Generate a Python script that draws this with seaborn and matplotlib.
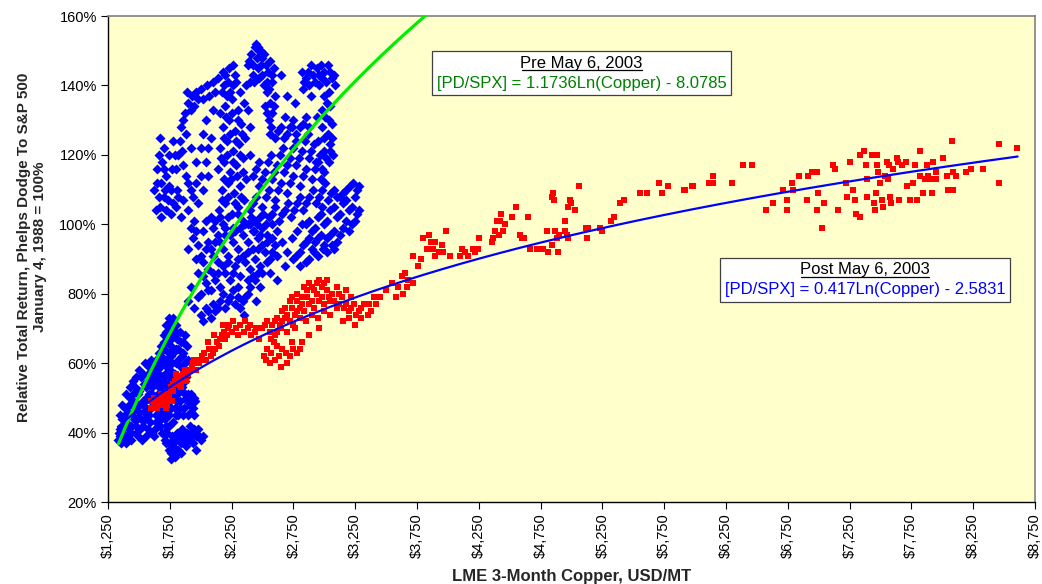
#!/usr/bin/env python3
"""Phelps Dodge relative return vs LME copper, pre/post May 6 2003."""

import matplotlib

matplotlib.use("Agg")
import matplotlib.pyplot as plt
import numpy as np
import pandas as pd
import seaborn as sns
from matplotlib.font_manager import FontProperties
from matplotlib.lines import Line2D
from matplotlib.offsetbox import AnchoredOffsetbox, DrawingArea, TextArea, VPacker
from matplotlib.textpath import TextPath
from matplotlib.ticker import FuncFormatter

# ---- pre May 6, 2003 (copper USD/MT, PD/SPX in %) -------------------------
PRE_LOW = [
    (1330, 38), (1345, 41), (1355, 37), (1365, 44), (1375, 40), (1385, 47), (1395, 43), (1405, 39),
    (1415, 46), (1425, 50), (1435, 42), (1445, 45), (1455, 49), (1465, 53), (1475, 40), (1485, 44),
    (1495, 48), (1505, 52), (1515, 56), (1525, 38), (1535, 42), (1545, 46), (1555, 50), (1565, 54),
    (1575, 41), (1585, 45), (1595, 49), (1605, 53), (1615, 57), (1625, 39), (1635, 43), (1645, 47),
    (1655, 51), (1665, 55), (1675, 42), (1685, 46), (1695, 50), (1705, 54), (1715, 44), (1725, 48),
    (1735, 52), (1745, 45), (1755, 49), (1765, 53), (1775, 43), (1790, 47), (1805, 51), (1820, 45),
    (1835, 49), (1850, 52), (1865, 47), (1880, 50), (1895, 45), (1910, 48), (1925, 51), (1940, 47),
    (1955, 49), (1450, 55), (1500, 58), (1550, 60), (1600, 61), (1400, 51), (1360, 48), (1420, 41),
    (1470, 47), (1520, 44), (1580, 51), (1640, 45), (1690, 40), (1740, 42), (1380, 42), (1430, 53),
    (1340, 40), (1350, 45), (1370, 38), (1390, 45), (1410, 42), (1420, 48), (1440, 40), (1450, 51),
    (1460, 44), (1480, 42), (1490, 51), (1500, 46), (1510, 41), (1530, 49), (1540, 54), (1550, 44),
    (1560, 47), (1570, 57), (1590, 43), (1600, 47), (1610, 51), (1620, 55), (1630, 41), (1650, 45),
    (1660, 53), (1670, 49), (1680, 44), (1700, 46), (1710, 50), (1720, 42), (1730, 46), (1750, 51),
    (1760, 47), (1780, 50), (1800, 45), (1810, 49), (1830, 47), (1860, 45), (1870, 51), (1890, 49),
    (1920, 46), (1930, 49), (1950, 45), (1480, 56), (1530, 57), (1580, 59), (1630, 59), (1350, 39),
    (1395, 37), (1440, 38), (1490, 39), (1560, 39), (1610, 40),
]
PRE_TAIL = [
    (1700, 40), (1720, 37), (1740, 35), (1760, 34), (1780, 36), (1800, 38), (1820, 35), (1840, 37),
    (1860, 39), (1880, 36), (1900, 38), (1920, 40), (1940, 37), (1960, 39), (1980, 41), (2000, 38),
    (2020, 39), (1770, 39), (1850, 41), (1910, 42), (1790, 33), (1960, 35), (1710, 38), (1730, 40),
    (1750, 37), (1770, 35), (1810, 40), (1830, 39), (1870, 38), (1890, 40), (1930, 39), (1950, 41),
    (1990, 39), (1800, 34), (1840, 34), (1760, 32.5),
]
PRE_ARM = [
    (1560, 53), (1600, 54), (1640, 55), (1680, 53), (1720, 54), (1760, 55), (1800, 52), (1850, 53),
    (1900, 51), (1950, 50), (1590, 57), (1630, 58), (1670, 59), (1710, 57), (1750, 58), (1790, 57),
    (1840, 59), (1880, 56), (1640, 61), (1680, 62), (1720, 61), (1760, 62), (1800, 60), (1850, 62),
    (1900, 61), (1680, 65), (1720, 66), (1760, 65), (1800, 64), (1840, 66), (1890, 65), (1700, 68),
    (1740, 69), (1780, 68), (1830, 69), (1870, 68), (1720, 71), (1760, 72), (1800, 71), (1740, 73),
    (1900, 78), (1950, 76), (1980, 79), (1920, 82), (1580, 55), (1620, 56), (1660, 57), (1700, 56),
    (1740, 56), (1780, 54), (1820, 56), (1870, 55), (1610, 59), (1650, 60), (1690, 60), (1730, 59),
    (1770, 60), (1820, 61), (1870, 60), (1660, 63), (1700, 64), (1740, 63), (1780, 63), (1820, 64),
    (1860, 63), (1700, 66), (1760, 67), (1810, 67), (1860, 66), (1720, 69), (1760, 70), (1800, 69),
    (1740, 71), (1780, 73),
]
PRE_BAND = [
    (2000, 74), (2040, 76), (2080, 73), (2120, 75), (2160, 78), (2200, 76), (2240, 79), (2280, 77),
    (2320, 76), (2360, 79), (2400, 82), (2440, 84), (2480, 82), (2000, 80), (2040, 83), (2080, 81),
    (2120, 84), (2160, 82), (2200, 86), (2240, 84), (2280, 88), (2320, 85), (2360, 89), (2400, 87),
    (2440, 90), (2480, 88), (2520, 92), (2560, 90), (2600, 94), (1980, 86), (2020, 89), (2060, 87),
    (2100, 91), (2140, 89), (2180, 93), (2220, 91), (2260, 95), (2300, 93), (2340, 97), (2380, 95),
    (2420, 98), (2460, 96), (2500, 99), (2540, 97), (2580, 100), (2620, 98), (1900, 93), (1940, 96),
    (1980, 94), (2020, 98), (2060, 95), (2100, 99), (2140, 97), (2180, 100), (2220, 102), (2260, 99),
    (2300, 103), (2340, 101), (2300, 82), (2380, 80), (2450, 78), (2350, 74), (2560, 86), (2620, 84),
    (2680, 88), (2020, 72), (2060, 75), (2100, 77), (2140, 76), (2180, 80), (2220, 78), (2260, 81),
    (2300, 79), (2340, 78), (2380, 84), (2420, 85), (2460, 86), (2500, 86), (2540, 89), (2580, 92),
    (2020, 85), (2060, 81), (2100, 86), (2140, 86), (2180, 88), (2220, 89), (2260, 86), (2300, 90),
    (2340, 91), (2380, 92), (2420, 93), (2460, 93), (2500, 94), (2540, 95), (2580, 96), (2620, 91),
    (2660, 95), (2000, 91), (2040, 93), (2080, 93), (2120, 95), (2160, 95), (2200, 97), (2240, 97),
    (2280, 98), (2320, 99), (2360, 100), (2400, 100), (2440, 101), (2480, 97), (1960, 90), (1920, 99),
    (1960, 98), (2040, 101), (2080, 102), (2120, 101), (2160, 102), (2200, 99),
]
PRE_COLUMN = [
    (2150, 104), (2200, 106), (2250, 103), (2300, 105), (2350, 107), (2170, 110), (2220, 112),
    (2270, 109), (2320, 111), (2370, 113), (2140, 116), (2190, 118), (2240, 115), (2290, 117),
    (2340, 119), (2160, 122), (2210, 124), (2260, 121), (2310, 123), (2360, 125), (2180, 128),
    (2230, 130), (2280, 127), (2330, 129), (2200, 134), (2250, 136), (2300, 133), (2350, 135),
    (2190, 140), (2240, 138), (2290, 141), (2180, 144), (2230, 145), (2280, 143), (2175, 107),
    (2225, 108), (2275, 106), (2325, 108), (2190, 113), (2245, 113), (2295, 114), (2345, 115),
    (2165, 119), (2215, 120), (2265, 118), (2315, 120), (2185, 125), (2235, 126), (2285, 124),
    (2335, 126), (2205, 131), (2255, 132), (2305, 130), (2220, 141), (2265, 140), (2210, 137),
    (2160, 132), (2170, 138), (2200, 143), (2260, 146), (2320, 138), (2370, 140), (2400, 128),
    (2380, 133),
]
PRE_PEAK = [
    (2380, 146), (2410, 149), (2440, 151), (2470, 150), (2500, 148), (2530, 146), (2560, 147),
    (2590, 145), (2420, 143), (2460, 145), (2500, 143), (2540, 141), (2580, 141), (2460, 151),
    (2490, 146), (2540, 138), (2560, 135), (2580, 132), (2550, 130), (2600, 137), (2570, 128),
    (2520, 134), (2395, 147), (2425, 146), (2455, 148), (2485, 150), (2515, 149), (2545, 144),
    (2575, 143), (2435, 141), (2475, 142), (2515, 140), (2555, 139), (2535, 132), (2565, 126),
    (2595, 134), (2450, 152), (2400, 141),
]
PRE_ARC = [
    (1640, 104), (1660, 108), (1680, 112), (1650, 116), (1690, 118), (1720, 114), (1760, 110),
    (1800, 116), (1740, 120), (1700, 122), (1780, 124), (1820, 120), (1860, 117), (1900, 112),
    (1940, 108), (1980, 106), (2020, 110), (2060, 114), (1960, 118), (2000, 122), (1880, 126),
    (1840, 128), (1870, 132), (1900, 135), (1930, 137), (1960, 138), (2000, 139), (2050, 140),
    (2100, 141), (2140, 142), (1680, 102), (1720, 104), (1760, 103), (1800, 105), (1840, 102),
    (1900, 104), (1950, 101), (1620, 110), (1700, 108), (2080, 125), (2040, 130), (2100, 133),
    (1645, 112), (1665, 120), (1675, 105), (1710, 110), (1735, 107), (1770, 116), (1790, 120),
    (1810, 110), (1830, 124), (1850, 121), (1880, 114), (1920, 110), (1920, 122), (1960, 112),
    (2000, 114), (2040, 118), (2020, 126), (2060, 122), (1860, 130), (1890, 138), (1920, 133),
    (1950, 134), (1980, 136), (2020, 136), (2070, 137), (2120, 138), (1860, 107), (1820, 108),
    (1780, 106), (1740, 111), (1700, 116), (1670, 125),
]
PRE_UPPER_RIGHT = [
    (2820, 144), (2850, 142), (2880, 140), (2910, 143), (2940, 145), (2970, 146), (3000, 144),
    (3030, 146), (3060, 142), (3090, 140), (3040, 138), (2960, 140), (2890, 137), (2830, 139),
    (3000, 137), (3050, 134), (3010, 131), (2980, 128), (3030, 126), (3060, 129), (2950, 124),
    (3000, 121), (3050, 123), (2930, 118), (2980, 116), (3040, 118), (3070, 120), (2650, 143),
    (2700, 137), (2760, 135), (2680, 131), (2740, 128), (2835, 141), (2865, 144), (2895, 146),
    (2925, 141), (2955, 143), (2985, 142), (3015, 141), (3045, 144), (3075, 143), (3025, 135),
    (3035, 130), (2995, 125), (3045, 121), (2965, 120), (3015, 119), (2945, 131), (2985, 133),
    (3065, 125),
]
PRE_MID_RIGHT = [
    (2400, 104), (2450, 108), (2500, 105), (2550, 110), (2600, 107), (2650, 112), (2700, 109),
    (2750, 114), (2800, 111), (2850, 116), (2900, 113), (2950, 118), (3000, 115), (2420, 114),
    (2470, 118), (2520, 115), (2570, 120), (2620, 117), (2670, 122), (2720, 119), (2770, 124),
    (2820, 121), (2870, 126), (2920, 123), (2380, 100), (2430, 98), (2480, 102), (2530, 100),
    (2580, 103), (2630, 101), (2680, 104), (2730, 102), (2780, 106), (2830, 104), (2880, 108),
    (2930, 106), (2980, 110), (2600, 125), (2650, 128), (2700, 126), (2750, 130), (2800, 128),
    (2850, 131), (2400, 120), (2425, 106), (2475, 111), (2525, 108), (2575, 113), (2625, 110),
    (2675, 115), (2725, 112), (2775, 117), (2825, 114), (2875, 119), (2925, 116), (2975, 113),
    (2445, 116), (2495, 113), (2545, 118), (2595, 115), (2645, 120), (2695, 117), (2745, 122),
    (2795, 119), (2845, 124), (2895, 121), (2405, 102), (2455, 100), (2505, 103), (2555, 102),
    (2605, 105), (2655, 103), (2705, 106), (2755, 104), (2805, 108), (2855, 106), (2905, 110),
    (2955, 108), (3005, 112), (2625, 127), (2675, 125), (2725, 128), (2775, 126), (2825, 129),
    (2875, 128),
]
PRE_BLOB = [
    (2850, 100), (2900, 98), (2950, 102), (3000, 100), (3050, 104), (3100, 102), (3150, 106),
    (3200, 104), (3250, 108), (3280, 111), (3230, 112), (3180, 110), (3130, 108), (3080, 110),
    (3030, 107), (2980, 105), (2800, 92), (2850, 95), (2900, 93), (2950, 96), (3000, 94), (3050, 97),
    (3100, 95), (3150, 99), (3200, 98), (3250, 101), (3280, 104), (2750, 90), (2800, 88), (2880, 90),
    (2950, 91), (3020, 92), (3080, 93), (2875, 101), (2925, 99), (2975, 103), (3025, 101),
    (3075, 105), (3125, 103), (3175, 107), (3225, 105), (3265, 110), (3205, 111), (3155, 109),
    (3105, 108), (3055, 109), (2825, 94), (2875, 96), (2925, 95), (2975, 97), (3025, 96), (3075, 98),
    (3125, 97), (3175, 101), (3225, 100), (3265, 103), (2775, 91), (2850, 89), (2920, 92), (2990, 93),
    (3060, 94), (2700, 92), (2740, 96), (2780, 98), (2820, 100),
]

# ---- post May 6, 2003 --------------------------------------------------------
POST_START = [
    (1600, 49), (1620, 48), (1640, 49), (1660, 50), (1680, 49), (1700, 50), (1720, 51), (1740, 50),
    (1760, 52), (1700, 48), (1730, 48), (1750, 49), (1680, 51), (1650, 47), (1620, 50), (1770, 49),
    (1720, 47), (1690, 48), (1610, 49), (1630, 48), (1650, 50), (1670, 49), (1690, 50), (1710, 49),
    (1730, 50), (1660, 48), (1700, 51), (1740, 51), (1640, 47), (1600, 47),
]
POST_CLIMB = [
    (1760, 53), (1790, 55), (1820, 54), (1850, 56), (1870, 58), (1900, 57), (1930, 59), (1960, 58),
    (1990, 60), (2010, 62), (2040, 61), (2070, 64), (2100, 63), (2130, 66), (2150, 65), (2170, 68),
    (2200, 67), (2220, 70), (1800, 57), (1880, 55), (1950, 61), (2060, 66), (2110, 68), (2180, 71),
    (1780, 52), (1840, 53), (2230, 71), (2260, 72), (2290, 70), (2320, 71), (2350, 69), (2380, 70),
    (2410, 68), (2440, 69), (2470, 67), (2300, 68), (2250, 69), (1780, 54), (1810, 56), (1840, 55),
    (1860, 57), (1890, 58), (1920, 58), (1940, 60), (1970, 61), (2000, 61), (2030, 63), (2080, 62),
    (2120, 64), (2160, 67), (2190, 69), (2210, 68),
]
POST_LOWER = [
    (2510, 62), (2540, 64), (2570, 63), (2600, 61), (2630, 62), (2660, 64), (2690, 63), (2720, 62),
    (2750, 64), (2780, 63), (2560, 60), (2620, 65), (2700, 60), (2650, 59), (2590, 66), (2740, 66),
    (2800, 64), (2530, 61),
]
POST_MAIN = [
    (2500, 70), (2540, 72), (2580, 71), (2620, 73), (2660, 72), (2700, 74), (2740, 76), (2780, 75),
    (2820, 77), (2860, 79), (2900, 78), (2940, 80), (2980, 79), (3020, 81), (3060, 80), (3100, 82),
    (3140, 79), (3180, 77), (3220, 76), (3260, 74), (3300, 76), (2600, 68), (2650, 70), (2700, 69),
    (2750, 71), (2800, 73), (2850, 72), (2900, 74), (2950, 73), (3000, 75), (3050, 74), (3100, 76),
    (3150, 72), (3200, 73), (3250, 71), (3300, 73), (3350, 74), (2720, 78), (2780, 80), (2840, 82),
    (2880, 83), (2920, 81), (2960, 84), (3000, 83), (3050, 78), (3120, 77), (2680, 76), (2760, 70),
    (2880, 68), (2820, 66), (2960, 70), (3180, 81), (3220, 79), (3360, 77), (3400, 79), (3450, 79),
    (3500, 81), (3550, 83), (3600, 82), (3640, 80), (3680, 84), (3720, 83), (3580, 79), (3650, 86),
    (3629, 85), (3669, 82), (2520, 71), (2560, 69), (2600, 72), (2640, 71), (2680, 73), (2720, 72),
    (2760, 74), (2800, 76), (2840, 75), (2880, 77), (2920, 76), (2960, 78), (3000, 77), (3040, 79),
    (3080, 78), (3120, 80), (3160, 76), (3200, 75), (3240, 77), (3280, 75), (3320, 77), (3380, 75),
    (3420, 77), (2860, 81), (2900, 82), (2940, 83), (2980, 82), (3020, 84), (2820, 79), (2780, 78),
    (2740, 79), (2660, 75), (2620, 69), (2570, 67), (2450, 70), (2400, 71), (2360, 72),
]
POST_MID = [
    (3718, 91), (3758, 88), (3799, 96), (3847, 97), (3896, 95), (3880, 93), (3896, 91), (3952, 94),
    (3961, 92), (3985, 98), (4017, 91), (3830, 93), (3860, 95), (3930, 92), (3780, 90),
    (4098, 91), (4114, 93), (4140, 92), (4160, 91), (4203, 93), (4220, 92), (4243, 93), (4251, 96),
    (4357, 95), (4365, 96), (4381, 98), (4397, 101), (4422, 101), (4410, 97), (4446, 98), (4462, 100),
    (4430, 103), (4519, 102), (4551, 105), (4583, 97), (4600, 96), (4616, 96), (4648, 102), (4664, 93),
    (4721, 93), (4770, 93), (4802, 98), (4842, 94), (4810, 92), (4867, 98), (4883, 96), (4891, 92),
    (4900, 97), (4948, 98), (4964, 97), (4948, 101), (4970, 96),
    (4842, 108), (4859, 107), (4850, 109), (4988, 107), (4972, 105), (5000, 106), (5028, 104),
    (5061, 111), (5118, 99), (5126, 96), (5135, 99), (5231, 99), (5245, 98), (5320, 101),
    (5345, 102), (5393, 106), (5425, 107),
]
POST_HIGH = [
    (5554, 109), (5615, 109), (5708, 112), (5730, 109), (5781, 111), (5910, 110), (5975, 111),
    (5918, 110), (5983, 111), (6112, 112), (6145, 114), (6145, 112), (6299, 112), (6388, 117),
    (6460, 117), (6574, 104), (6630, 106), (6711, 110), (6743, 104), (6743, 107), (6784, 112),
    (6792, 110), (6840, 114), (6905, 107), (6913, 114), (6946, 115), (6986, 115), (6994, 109),
    (6986, 104), (7027, 99), (7043, 106), (7115, 117), (7132, 116), (7156, 104), (7221, 112),
    (7229, 108), (7253, 118), (7278, 110), (7294, 107), (7302, 103), (7334, 102), (7334, 120),
    (7366, 121), (7383, 117), (7391, 113), (7391, 108), (7431, 120), (7447, 106), (7456, 104),
    (7464, 109), (7472, 120), (7472, 117), (7480, 115), (7496, 112), (7512, 107), (7520, 105),
    (7536, 114), (7553, 118), (7561, 113), (7569, 117), (7577, 108), (7585, 106), (7601, 116),
    (7634, 119), (7642, 118), (7650, 107), (7674, 117), (7706, 118), (7714, 111), (7739, 107),
    (7763, 112), (7779, 117), (7795, 107), (7820, 121), (7820, 114), (7844, 109), (7860, 113),
    (7876, 117), (7884, 114), (7900, 113), (7917, 109), (7925, 118), (7949, 113), (7949, 115),
    (8006, 119), (8038, 114), (8046, 110), (8079, 124), (8087, 110), (8087, 115), (8111, 114),
    (8192, 115), (8232, 116), (8329, 116), (8459, 123), (8459, 112), (8604, 122),
]

# logarithmic trendlines as printed on the chart: ratio = a * ln(copper) + b
PRE_FIT = (1.1736, -8.0785)
POST_FIT = (0.417, -2.5831)
PRE_FIT_SPAN = (1335, 3900)
POST_FIT_SPAN = (1330, 8610)

X_TICKS = list(range(1250, 8751, 500))
Y_TICKS = list(range(20, 161, 20))

FONT = "Liberation Sans"
PLOT_BG = "#FFFFCC"
BLUE = "#0000FF"
RED = "#FF0000"
GREEN_LINE = "#00EE00"
GREEN_TEXT = "#008000"


def setup_style() -> None:
    sns.set_theme(style="ticks")
    plt.rcParams.update(
        {
            "font.family": [FONT, "DejaVu Sans"],
            "axes.edgecolor": "black",
            "xtick.color": "black",
            "ytick.color": "black",
        }
    )


def to_frame(*groups) -> pd.DataFrame:
    rows = [p for g in groups for p in g]
    return pd.DataFrame(rows, columns=["copper", "ratio"])


def trend_frame(fit, span) -> pd.DataFrame:
    x = np.geomspace(span[0], span[1], 300)
    return pd.DataFrame({"copper": x, "ratio": 100 * (fit[0] * np.log(x) + fit[1])})


def equation_box(ax, title, formula, color, xy, size=12) -> None:
    head = TextArea(title, textprops=dict(color="black", fontsize=size))
    # underline under the heading, as wide as the heading text
    width = TextPath((0, 0), title, size=size, prop=FontProperties(family=FONT)).get_extents().width
    rule = DrawingArea(width, 1.5, 0, 0)
    rule.add_artist(Line2D([0, width], [0.9, 0.9], color="black", linewidth=0.9))
    heading = VPacker(children=[head, rule], align="center", pad=0, sep=-1)
    body = TextArea(formula, textprops=dict(color=color, fontsize=size))
    pack = VPacker(children=[heading, body], align="center", pad=0, sep=3)
    box = AnchoredOffsetbox(
        loc="center", child=pack, pad=0.3, borderpad=0, frameon=True,
        bbox_to_anchor=xy, bbox_transform=ax.transAxes,
    )
    box.patch.set_facecolor("white")
    box.patch.set_edgecolor("#404040")
    box.patch.set_linewidth(0.9)
    box.set_zorder(6)
    ax.add_artist(box)


def main() -> None:
    setup_style()
    pre = to_frame(PRE_LOW, PRE_TAIL, PRE_ARM, PRE_BAND, PRE_COLUMN, PRE_PEAK, PRE_ARC,
                   PRE_UPPER_RIGHT, PRE_MID_RIGHT, PRE_BLOB)
    post = to_frame(POST_START, POST_CLIMB, POST_LOWER, POST_MAIN, POST_MID, POST_HIGH)

    fig = plt.figure(figsize=(10.42, 5.84), dpi=100)
    ax = fig.add_axes([0.1036, 0.1404, 0.8896, 0.8322])
    ax.set_facecolor(PLOT_BG)

    sns.scatterplot(data=pre, x="copper", y="ratio", marker="D", s=26, color=BLUE,
                    linewidth=0, ax=ax, zorder=2)
    sns.scatterplot(data=post, x="copper", y="ratio", marker="s", s=16, color=RED,
                    linewidth=0, ax=ax, zorder=3)
    sns.lineplot(data=trend_frame(PRE_FIT, PRE_FIT_SPAN), x="copper", y="ratio", sort=False,
                 estimator=None, color=GREEN_LINE, linewidth=2.3, ax=ax, zorder=4)
    sns.lineplot(data=trend_frame(POST_FIT, POST_FIT_SPAN), x="copper", y="ratio", sort=False,
                 estimator=None, color=BLUE, linewidth=1.6, ax=ax, zorder=4)

    ax.set_xlim(X_TICKS[0], X_TICKS[-1])
    ax.set_ylim(Y_TICKS[0], Y_TICKS[-1])
    ax.set_xticks(X_TICKS)
    ax.set_yticks(Y_TICKS)
    ax.xaxis.set_major_formatter(FuncFormatter(lambda v, _: f"${v:,.0f}"))
    ax.yaxis.set_major_formatter(FuncFormatter(lambda v, _: f"{v:.0f}%"))
    ax.tick_params(axis="x", labelrotation=90, labelsize=10.5, length=5, width=0.8, pad=3)
    ax.tick_params(axis="y", labelsize=10.5, length=5, width=0.8, pad=3)
    ax.grid(False)

    for side in ("left", "bottom"):
        ax.spines[side].set_color("black")
        ax.spines[side].set_linewidth(1.0)
    for side in ("top", "right"):
        ax.spines[side].set_color("#808080")
        ax.spines[side].set_linewidth(1.2)

    ax.set_xlabel("LME 3-Month Copper, USD/MT", fontsize=12, fontweight="bold", labelpad=8)
    ax.set_ylabel("Relative Total Return, Phelps Dodge To S&P 500\nJanuary 4, 1988 = 100%",
                  fontsize=11, fontweight="bold", linespacing=1.2)
    ax.yaxis.set_label_coords(-0.066, 0.525)

    equation_box(ax, "Pre May 6, 2003", "[PD/SPX] = 1.1736Ln(Copper) - 8.0785",
                 GREEN_TEXT, (0.511, 0.882))
    equation_box(ax, "Post May 6, 2003", "[PD/SPX] = 0.417Ln(Copper) - 2.5831",
                 BLUE, (0.817, 0.457))

    fig.savefig("out.png", dpi=100, facecolor="white")
    plt.close(fig)


if __name__ == "__main__":
    main()
